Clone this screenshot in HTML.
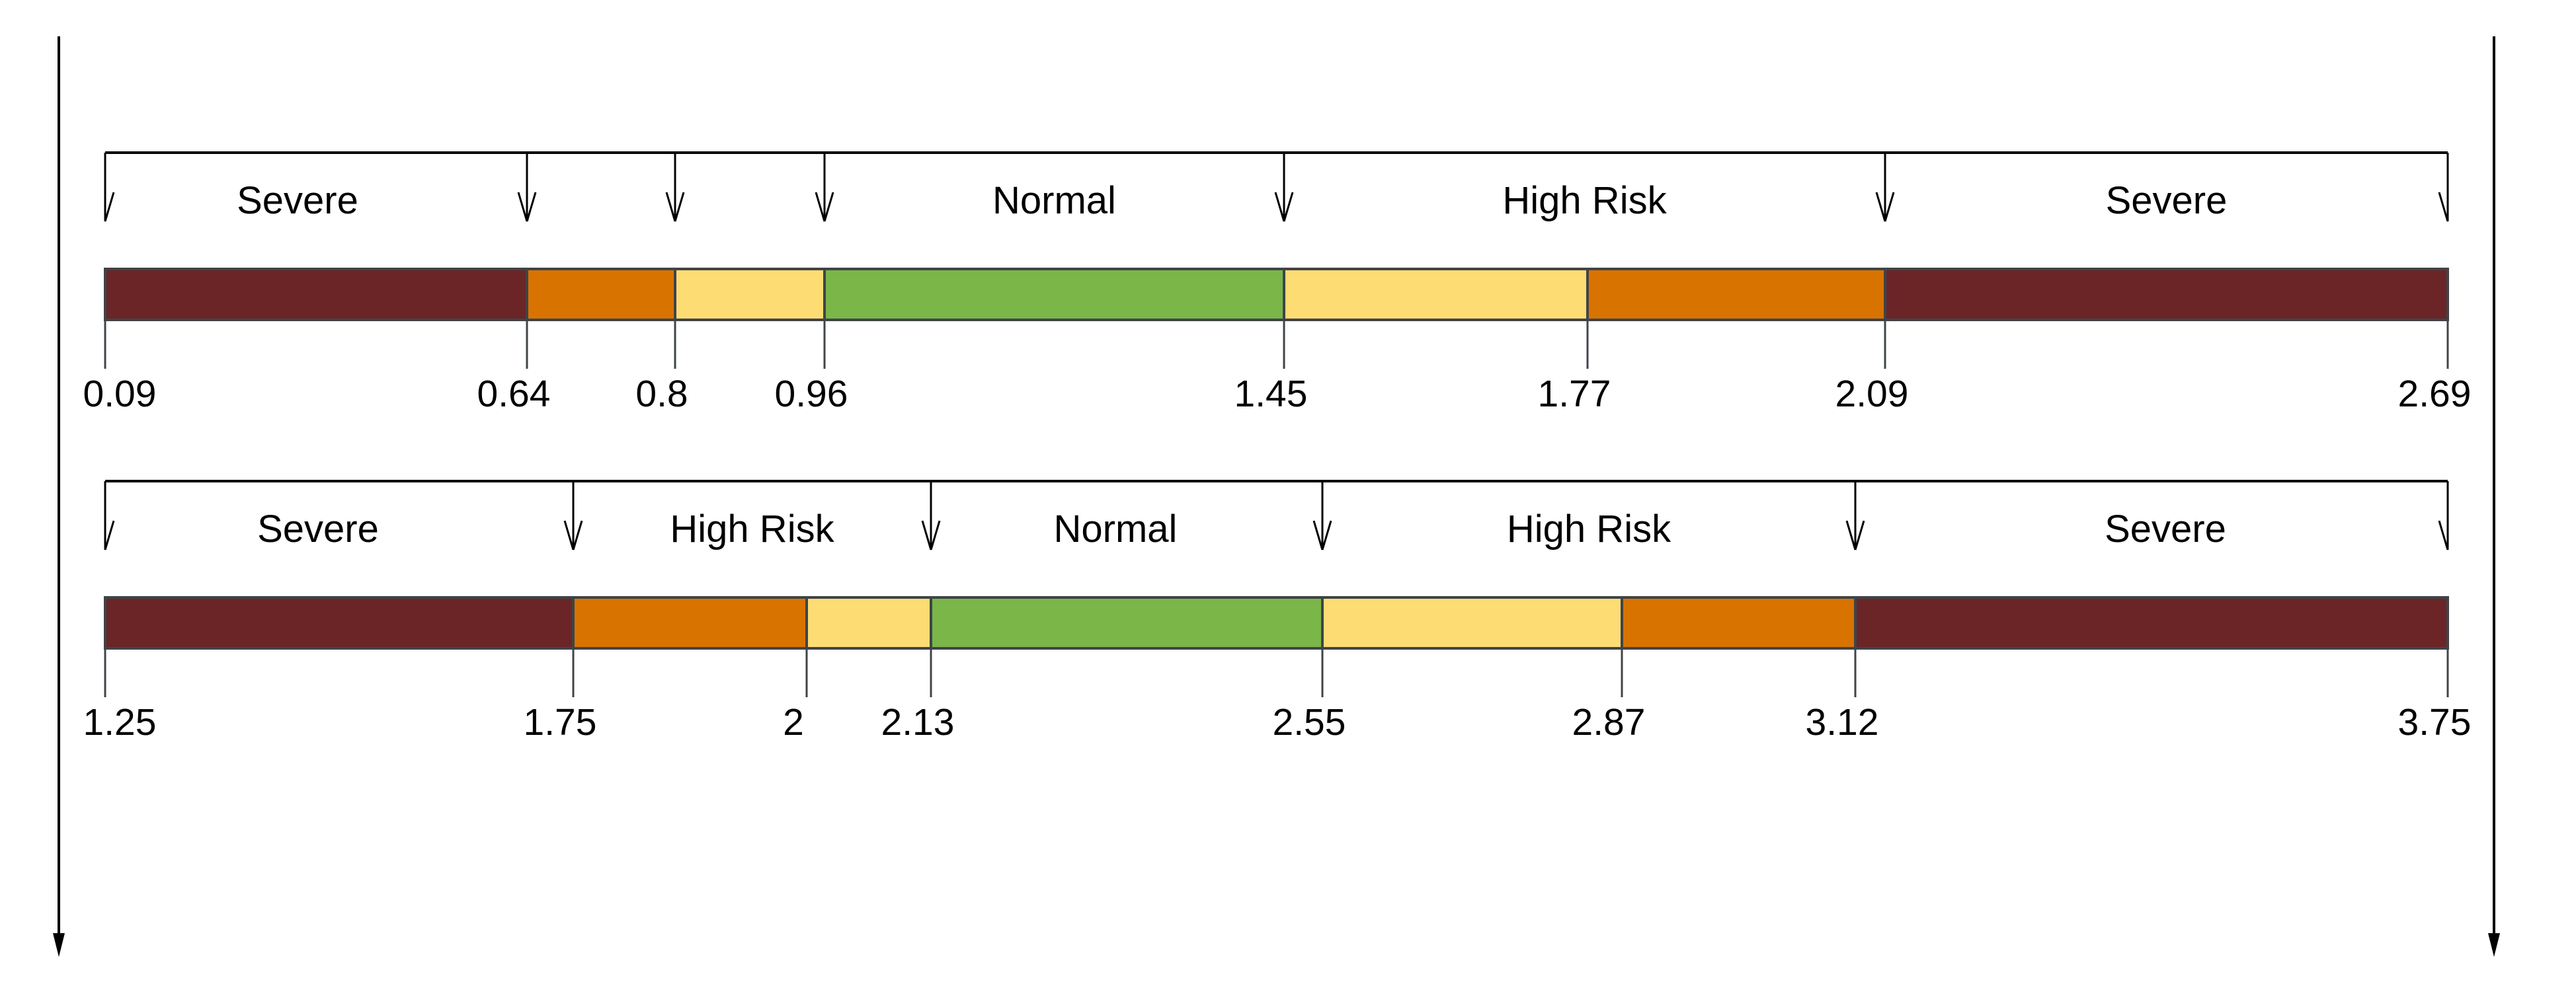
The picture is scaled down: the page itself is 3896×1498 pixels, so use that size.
<!DOCTYPE html>
<html><head><meta charset="utf-8">
<style>
html,body{margin:0;padding:0;background:#fff;}
svg{display:block;font-family:"Liberation Sans",sans-serif;}
</style></head>
<body>
<svg id="chart" width="3896" height="1498" viewBox="0 0 3896 1498" xmlns="http://www.w3.org/2000/svg">
<line x1="89" y1="55" x2="89" y2="1420" stroke="#000" stroke-width="4"/>
<polygon points="80,1412 98,1412 89,1448" fill="#000"/>
<line x1="3772" y1="55" x2="3772" y2="1420" stroke="#000" stroke-width="4"/>
<polygon points="3763,1412 3781,1412 3772,1448" fill="#000"/>
<g id="g1"></g>
<g id="g2"></g>
</svg>
<script>
// Scale 1
const ticks1 = [0.09, 0.64, 0.8, 0.96, 1.45, 1.77, 2.09, 2.69];
const tickLabels1 = ["0.09", "0.64", "0.8", "0.96", "1.45", "1.77", "2.09", "2.69"];
const colors1 = ["severe", "moderate", "mild", "normal", "mild", "moderate", "severe"];
const zoneBounds1 = [0.09, 0.64, 0.8, 0.96, 1.45, 2.09, 2.69];
const zoneLabels1 = ["Severe", "", "", "Normal", "High Risk", "Severe"];
// Scale 2
const ticks2 = [1.25, 1.75, 2, 2.13, 2.55, 2.87, 3.12, 3.75];
const tickLabels2 = ["1.25", "1.75", "2", "2.13", "2.55", "2.87", "3.12", "3.75"];
const colors2 = ["severe", "moderate", "mild", "normal", "mild", "moderate", "severe"];
const zoneBounds2 = [1.25, 1.75, 2.13, 2.55, 3.12, 3.75];
const zoneLabels2 = ["Severe", "High Risk", "Normal", "High Risk", "Severe"];

const PAL = {severe:"#6b2527", moderate:"#d97300", mild:"#fddc73", normal:"#7ab648"};
const NS = "http://www.w3.org/2000/svg";
// layout: axis knot pixels for piecewise axis scale, and label nudges
const knots1 = [159, 797, 1021, 1247, 1942, 2401, 2851, 3702];
const knots2 = [159, 867, 1220, 1408, 2000, 2453, 2806, 3702];
const nudge1 = [-28, 0, 0, 0, 0, 0];
const nudge2 = [-32, 0, -17, 0, 21];

function makeScale(vals, px){
  return function(v){
    for(let i=0;i<vals.length-1;i++){
      if(v<=vals[i+1]||i===vals.length-2){
        const t=(v-vals[i])/(vals[i+1]-vals[i]);
        return px[i]+t*(px[i+1]-px[i]);
      }
    }
  };
}
function el(tag, attrs, parent){
  const e=document.createElementNS(NS,tag);
  for(const k in attrs) e.setAttribute(k,attrs[k]);
  parent.appendChild(e); return e;
}

function draw(g, ticks, labels, colors, bounds, zlabels, knots, nudge, y0){
  const x = makeScale(ticks, knots);
  const yBr=y0, yTip=y0+104, yTxt=y0+92, yBt=y0+176, yBb=y0+253, yTk=y0+327, yLb=y0+384;
  const x0=x(bounds[0]), x1=x(bounds[bounds.length-1]);
  const br = el('line',{x1:x0,y1:yBr,x2:x1,y2:yBr,stroke:'#000','stroke-width':4},g);
  
  
  bounds.forEach((b,i)=>{
    const bx=x(b);
    const a=el('path',{d:'',fill:'none',stroke:'#000','stroke-width':3},g);
    let d=`M${bx},${yBr} L${bx},${yTip}`;
    if(i>0) d+=` M${bx-13},${yTip-44} L${bx},${yTip}`;
    if(i<bounds.length-1) d+=` M${bx+13},${yTip-44} L${bx},${yTip}`;
    a.setAttribute('d',d);
    
    
  });
  zlabels.forEach((t,i)=>{
    if(!t) return;
    const tx=el('text',{x:(x(bounds[i])+x(bounds[i+1]))/2+nudge[i],y:yTxt,'font-size':58,'text-anchor':'middle',fill:'#000'},g);
    tx.textContent=t;
    
    
  });
  for(let i=0;i<ticks.length-1;i++){
    const r=el('rect',{x:x(ticks[i]),y:yBt,width:x(ticks[i+1])-x(ticks[i]),height:yBb-yBt,fill:PAL[colors[i]],stroke:'#3f4448','stroke-width':4},g);
    
    
  }
  ticks.forEach((v,i)=>{
    const tx=x(v);
    const t=el('line',{x1:tx,y1:yBb,x2:tx,y2:yTk,stroke:'#3f4448','stroke-width':3},g);
    
    
    const lb=el('text',{x:tx+(i===0?22:-20),y:yLb,'font-size':57,'text-anchor':'middle',fill:'#000'},g);
    lb.textContent=labels[i];
    
    
  });
}
draw(document.getElementById('g1'), ticks1, tickLabels1, colors1, zoneBounds1, zoneLabels1, knots1, nudge1, 231);
draw(document.getElementById('g2'), ticks2, tickLabels2, colors2, zoneBounds2, zoneLabels2, knots2, nudge2, 728);
</script>
</body></html>
